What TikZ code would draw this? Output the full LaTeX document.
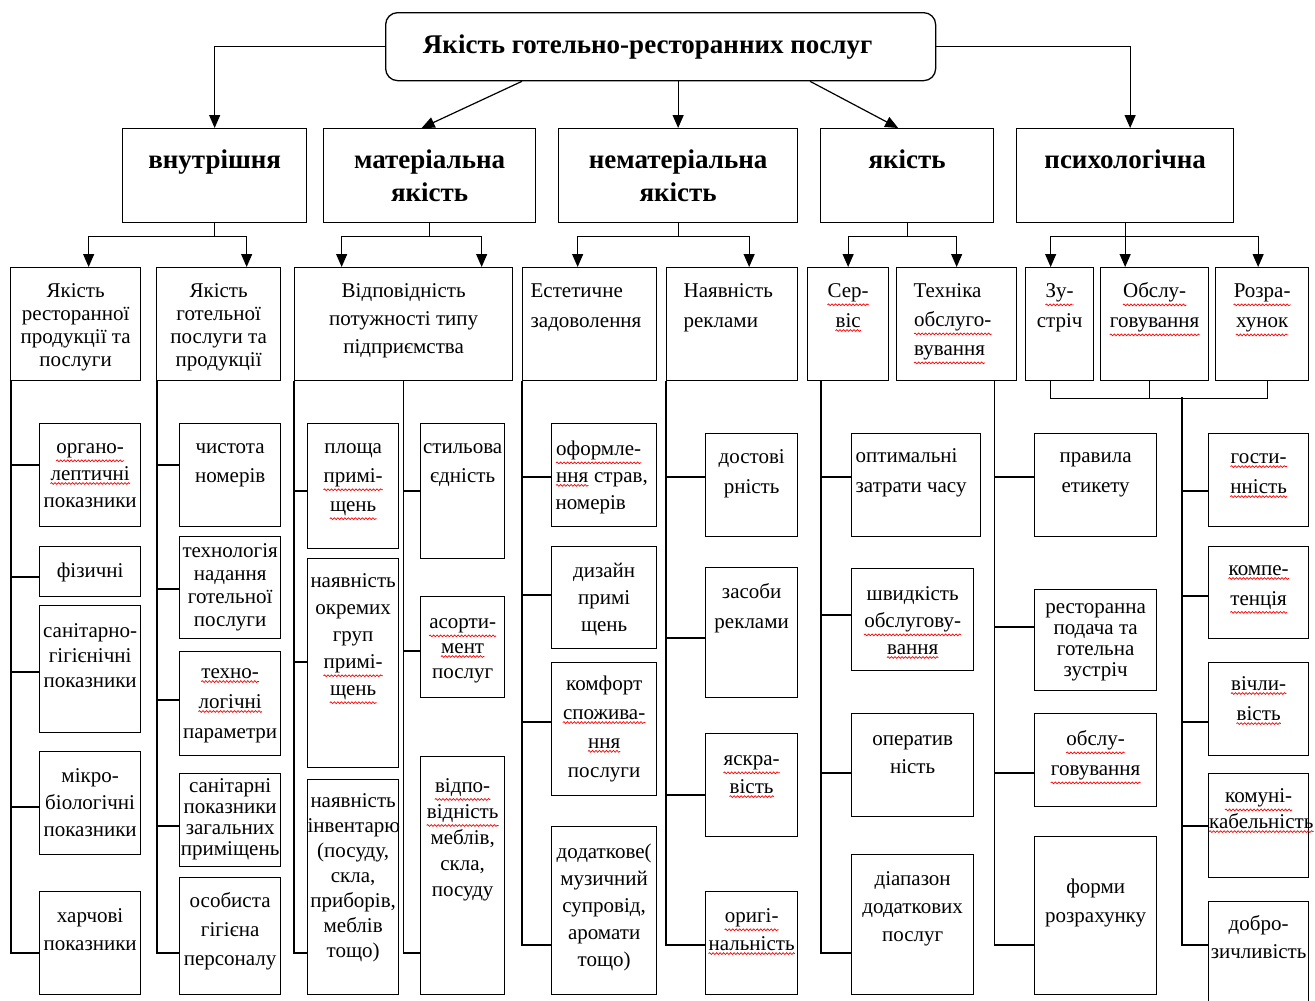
\documentclass[tikz,border=0pt]{standalone}
\usepackage{fontspec}
\setmainfont{Liberation Serif}
\usetikzlibrary{arrows.meta, decorations.pathmorphing}
\hyphenpenalty=10000
\exhyphenpenalty=10000
\lineskiplimit=-100pt
\newcommand{\wavy}[1]{\tikz[baseline=(w.base)]{
    \node[inner sep=0pt, anchor=base, draw=none] (w) at (0,0) {#1};
    \draw[red, line width=0.7pt, decorate, decoration={snake, amplitude=0.9pt, segment length=3.5pt}]
        ([yshift=-2.5pt]w.south west) -- ([yshift=-2.5pt]w.south east);}}
\newcommand{\headfont}{\bfseries\fontsize{27}{33}\selectfont}
% [align]{name}{x}{y}{w}{h}{first baseline}{line skip}{text}
\newcommand{\qbox}[9][\centering]{
    \node[qbox] (#2) at (#3,#4)
        {\parbox[c][#6pt][t]{#5pt}{#1\baselineskip=#8pt\rule{0pt}{#7pt}#9}};
}

\begin{document}
\begin{tikzpicture}[x=1pt, y=-1pt,
    qbox/.style={draw, line width=1.3pt, inner sep=0pt, anchor=north west, font=\fontsize{21}{27}\selectfont},
    arr/.style={line width=1.2pt, -{Triangle[length=13pt,width=11pt]}},
    link/.style={line width=1.2pt}]
    \useasboundingbox (0,0) rectangle (1315,1001);

    % top
    \node[qbox, rounded corners=12pt, minimum width=550pt, minimum height=68pt,
        font=\bfseries\fontsize{27}{34}\selectfont] (top) at (385,12) {\hspace*{-26pt}Якість готельно-ресторанних послуг};

    % first level
    \qbox[\centering\headfont]{vn}{122}{128}{184}{94}{40}{33}{внутрішня}
    \qbox[\centering\headfont]{mat}{323}{128}{212}{94}{40}{33}{матеріальна\\якість}
    \qbox[\centering\headfont]{nemat}{558}{128}{239}{94}{40}{33}{нематеріальна\\якість}
    \qbox[\centering\headfont]{yak}{820}{128}{173}{94}{40}{33}{якість}
    \qbox[\centering\headfont]{psy}{1016}{128}{217}{94}{40}{33}{психологічна}

    \draw[arr] (top.west) -| (vn.north);
    \draw[arr] ([xshift=137pt]top.south west) -- ([xshift=-8pt]mat.north);
    \draw[arr] (top.south -| nemat.north) -- (nemat.north);
    \draw[arr] ([xshift=425pt]top.south west) -- ([xshift=-9pt]yak.north);
    \draw[arr] (top.east) -| ([xshift=5pt]psy.north);

    % second level
    \qbox{rA}{10}{267}{130}{113}{30}{23}{Якість\\ресторанної\\продукції та\\послуги}
    \qbox{rB}{156}{267}{124}{113}{30}{23}{Якість\\готельної\\послуги та\\продукції}
    \qbox{rC}{294}{267}{218}{113}{30}{28}{Відповідність\\потужності типу\\підприємства}
    \qbox[\raggedright\leftskip=8pt]{rD}{522}{267}{134}{113}{30}{30}{Естетичне\\задоволення}
    \qbox[\raggedright\leftskip=17pt]{rE}{666}{267}{131}{113}{30}{30}{Наявність\\реклами}
    \qbox{rF}{807}{267}{81}{113}{30}{30}{\wavy{Сер-}\\\wavy{віс}}
    \qbox[\raggedright\leftskip=17pt]{rG}{896}{267}{120}{113}{30}{29}{Техніка\\\wavy{обслуго-}\\\wavy{вування}}
    \qbox{rH}{1025}{267}{68}{113}{30}{30}{\wavy{Зу-}\\стріч}
    \qbox{rI}{1100}{267}{108}{113}{30}{30}{\wavy{Обслу-}\\\wavy{говування}}
    \qbox{rJ}{1215}{267}{93}{113}{30}{30}{\wavy{Розра-}\\\wavy{хунок}}

    \draw[arr] (vn.south) -- ++(0,13) -| ([xshift=13pt]rA.north);
    \draw[arr] (vn.south) -- ++(0,13) -| ([xshift=28pt]rB.north);
    \draw[arr] (mat.south) -- ++(0,13) -| ([xshift=-62pt]rC.north);
    \draw[arr] (mat.south) -- ++(0,13) -| ([xshift=78pt]rC.north);
    \draw[arr] (nemat.south) -- ++(0,13) -| ([xshift=-12pt]rD.north);
    \draw[arr] (nemat.south) -- ++(0,13) -| ([xshift=17pt]rE.north);
    \draw[arr] (yak.south) -- ++(0,13) -| (rF.north);
    \draw[arr] (yak.south) -- ++(0,13) -| (rG.north);
    \draw[arr] (psy.south) -- ++(0,13) -| ([xshift=-9pt]rH.north);
    \draw[arr] (psy.south) -- (rI.north -| psy.south);
    \draw[arr] (psy.south) -- ++(0,13) -| ([xshift=-4pt]rJ.north);

    % third level
    \qbox{a1}{39}{423}{101}{103}{30}{27}{\wavy{органо-}\\\wavy{лептичні}\\показники}
    \qbox{a2}{39}{546}{101}{50}{31}{27}{фізичні}
    \qbox{a3}{39}{605}{101}{127}{32}{25}{санітарно-\\гігієнічні\\показники}
    \qbox{a4}{39}{751}{101}{103}{31}{27}{мікро-\\біологічні\\показники}
    \qbox{a5}{39}{891}{101}{103}{31}{28}{харчові\\показники}

    \qbox{b1}{179}{423}{101}{103}{30}{29}{чистота\\номерів}
    \qbox{b2}{179}{536}{101}{102}{21}{23}{технологія\\надання\\готельної\\послуги}
    \qbox{b3}{179}{651}{101}{104}{27}{30}{\wavy{техно-}\\\wavy{логічні}\\параметри}
    \qbox{b4}{179}{773}{101}{93}{19}{21}{санітарні\\показники\\загальних\\приміщень}
    \qbox{b5}{179}{877}{101}{117}{30}{29}{особиста\\гігієна\\персоналу}

    \qbox{c1}{307}{423}{91}{125}{30}{29}{площа\\\wavy{примі-}\\\wavy{щень}}
    \qbox{c2}{307}{558}{91}{209}{29}{27}{наявність\\окремих\\груп\\\wavy{примі-}\\\wavy{щень}}
    \qbox{c3}{307}{779}{91}{215}{28}{25}{наявність\\інвентарю\\(посуду,\\скла,\\приборів,\\меблів\\тощо)}

    \qbox{d1}{420}{423}{84}{135}{30}{29}{стильова\\єдність}
    \qbox{d2}{420}{596}{84}{101}{32}{25}{\wavy{асорти-}\\\wavy{мент}\\послуг}
    \qbox{d3}{420}{756}{84}{238}{36}{26}{\wavy{відпо-}\\\wavy{відність}\\меблів,\\скла,\\посуду}

    \qbox[\raggedright\leftskip=4pt]{e1}{551}{423}{105}{103}{32}{27}{\wavy{оформле-}\\\wavy{ння} страв,\\номерів}
    \qbox{e2}{551}{546}{105}{102}{31}{27}{дизайн\\примі\\щень}
    \qbox{e3}{551}{662}{105}{133}{28}{29}{комфорт\\\wavy{спожива-}\\\wavy{ння}\\послуги}
    \qbox{e4}{551}{826}{105}{168}{32}{27}{додаткове(\\музичний\\супровід,\\аромати\\тощо)}

    \qbox{f1}{705}{433}{92}{103}{30}{30}{достові\\рність}
    \qbox{f2}{705}{567}{92}{130}{31}{30}{засоби\\реклами}
    \qbox{f3}{705}{733}{92}{103}{32}{28}{\wavy{яскра-}\\\wavy{вість}}
    \qbox{f4}{705}{891}{92}{103}{31}{28}{\wavy{оригі-}\\\wavy{нальність}}

    \qbox[\raggedright\leftskip=4pt]{g1}{851}{433}{129}{103}{29}{30}{оптимальні\\затрати часу}
    \qbox{g2}{851}{568}{122}{102}{32}{27}{швидкість\\\wavy{обслугову-}\\\wavy{вання}}
    \qbox{g3}{851}{713}{122}{103}{32}{28}{оператив\\ність}
    \qbox{g4}{851}{854}{122}{140}{31}{28}{діапазон\\додаткових\\послуг}

    \qbox{h1}{1034}{433}{122}{103}{29}{30}{правила\\етикету}
    \qbox{h2}{1034}{589}{122}{101}{24}{21}{ресторанна\\подача та\\готельна\\зустріч}
    \qbox{h3}{1034}{713}{122}{93}{32}{30}{\wavy{обслу-}\\\wavy{говування}}
    \qbox{h4}{1034}{836}{122}{158}{57}{29}{форми\\розрахунку}

    \qbox{i1}{1208}{433}{100}{93}{30}{30}{\wavy{гости-}\\\wavy{нність}}
    \qbox{i2}{1208}{546}{100}{92}{29}{30}{\wavy{компе-}\\\wavy{тенція}}
    \qbox{i3}{1208}{662}{100}{93}{28}{30}{\wavy{вічли-}\\\wavy{вість}}
    \qbox{i4}{1208}{773}{100}{104}{29}{26}{\wavy{комуні-}\\\wavy{кабельність}}
    \qbox{i5}{1208}{901}{100}{110}{29}{28}{добро-\\зичливість}

    % links
    \draw[link] ([xshift=1pt]rA.south west) |- (a1.west |- 0,465);
    \draw[link] ([xshift=1pt]rA.south west) |- (a2.west |- 0,577);
    \draw[link] ([xshift=1pt]rA.south west) |- (a3.west |- 0,672);
    \draw[link] ([xshift=1pt]rA.south west) |- (a4.west |- 0,807);
    \draw[link] ([xshift=1pt]rA.south west) |- (a5.west |- 0,953);

    \draw[link] ([xshift=1pt]rB.south west) |- (b1.west |- 0,465);
    \draw[link] ([xshift=1pt]rB.south west) |- (b2.west |- 0,589);
    \draw[link] ([xshift=1pt]rB.south west) |- (b3.west |- 0,700);
    \draw[link] ([xshift=1pt]rB.south west) |- (b4.west |- 0,826);
    \draw[link] ([xshift=1pt]rB.south west) |- (b5.west |- 0,953);

    \draw[link] (rC.south west) |- (c1.west |- 0,491);
    \draw[link] (rC.south west) |- (c2.west |- 0,662);
    \draw[link] (rC.south west) |- (c3.west |- 0,953);
    \draw[link] (rC.south) |- (d1.west |- 0,491);
    \draw[link] (rC.south) |- (d2.west |- 0,651);
    \draw[link] (rC.south) |- (d3.west |- 0,953);

    \draw[link] (rD.south west) |- (e1.west |- 0,477);
    \draw[link] (rD.south west) |- (e2.west |- 0,595);
    \draw[link] (rD.south west) |- (e3.west |- 0,722);
    \draw[link] (rD.south west) |- (e4.west |- 0,945);

    \draw[link] (rE.south west) |- (f1.west |- 0,477);
    \draw[link] (rE.south west) |- (f2.west |- 0,638);
    \draw[link] (rE.south west) |- (f3.west |- 0,795);
    \draw[link] (rE.south west) |- (f4.west |- 0,945);

    \draw[link] ([xshift=14pt]rF.south west) |- (g1.west |- 0,477);
    \draw[link] ([xshift=14pt]rF.south west) |- (g2.west |- 0,615);
    \draw[link] ([xshift=14pt]rF.south west) |- (g3.west |- 0,773);
    \draw[link] ([xshift=14pt]rF.south west) |- (g4.west |- 0,953);

    \draw[link] ([xshift=-23pt]rG.south east) |- (h1.west |- 0,477);
    \draw[link] ([xshift=-23pt]rG.south east) |- (h2.west |- 0,627);
    \draw[link] ([xshift=-23pt]rG.south east) |- (h3.west |- 0,773);
    \draw[link] ([xshift=-23pt]rG.south east) |- (h4.west |- 0,945);

    \coordinate (pj) at (1182,397);
    \draw[link] ([xshift=-9pt]rH.south) -- ++(0,17) -| ([xshift=5pt]rJ.south);
    \draw[link] ([xshift=-5pt]rI.south) -- ++(0,17);
    \draw[link] (pj) |- (i1.west |- 0,491);
    \draw[link] (pj) |- (i2.west |- 0,596);
    \draw[link] (pj) |- (i3.west |- 0,722);
    \draw[link] (pj) |- (i4.west |- 0,826);
    \draw[link] (pj) |- (i5.west |- 0,945);
\end{tikzpicture}
\end{document}
